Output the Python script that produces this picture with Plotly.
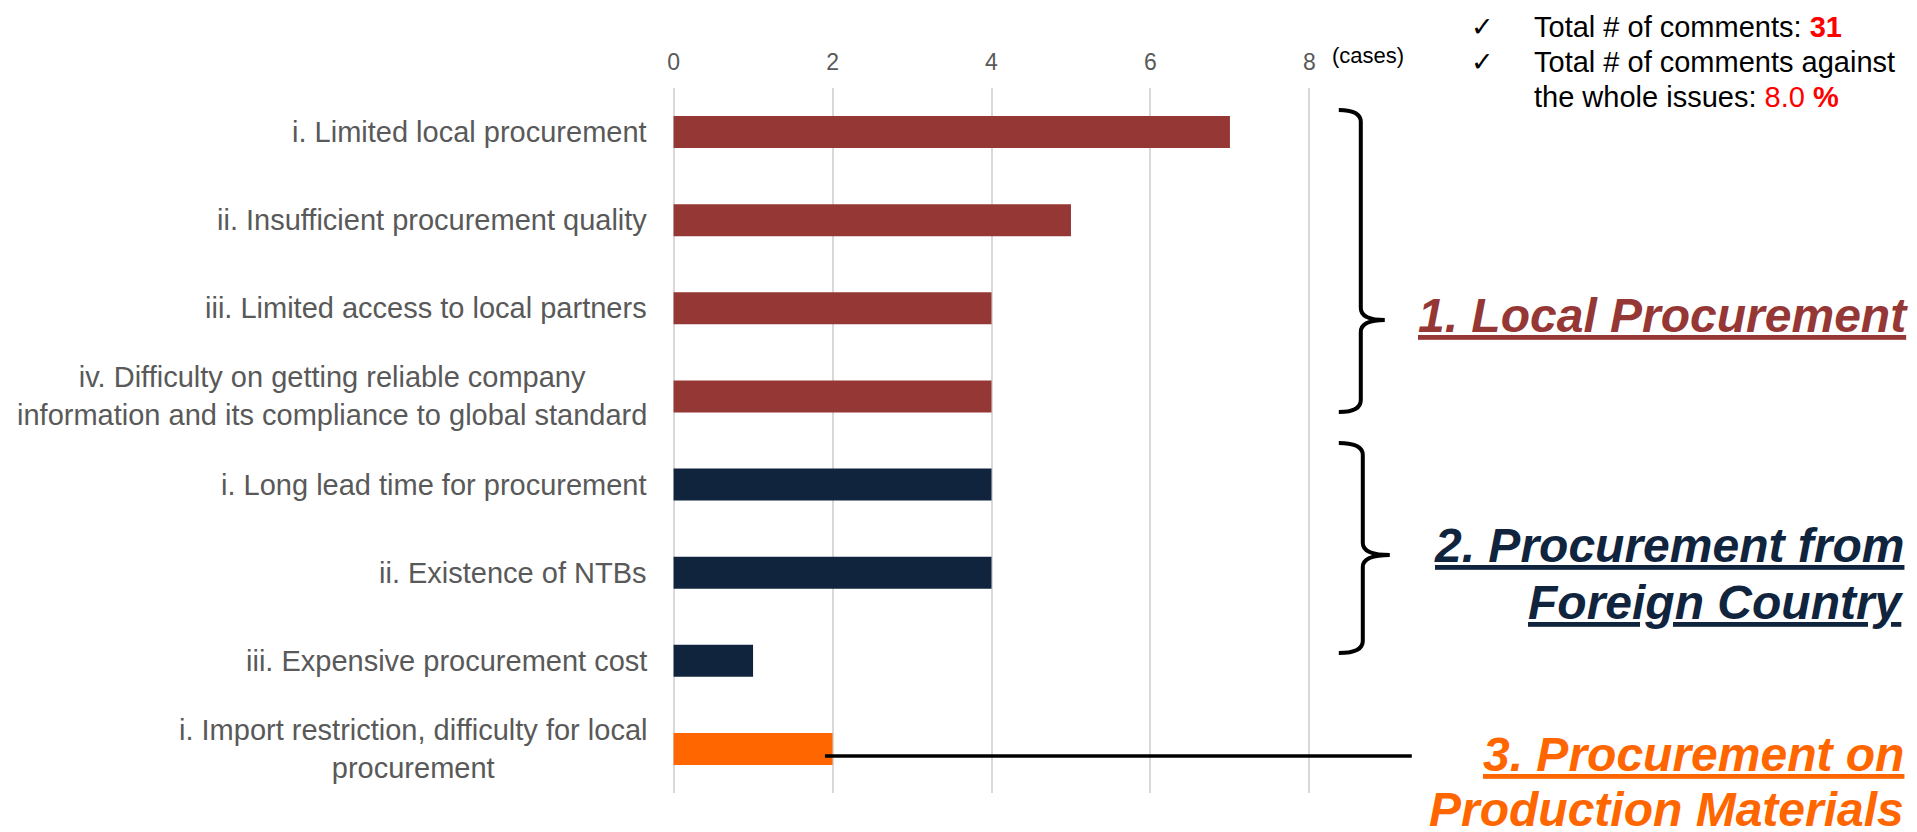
import plotly.graph_objects as go

# ---- data -------------------------------------------------------------
items = [
    "i. Limited local procurement",
    "ii. Insufficient procurement quality",
    "iii. Limited access to local partners",
    "iv. Difficulty on getting reliable company<br>information and its compliance to global standard",
    "i. Long lead time for procurement",
    "ii. Existence of NTBs",
    "iii. Expensive procurement cost",
    "i. Import restriction, difficulty for local<br>procurement",
]
cases = [7, 5, 4, 4, 4, 4, 1, 2]
item_group = [0, 0, 0, 0, 1, 1, 1, 2]

group_lines = [
    ["1. Local Procurement"],
    ["2. Procurement from", "Foreign Country"],
    ["3. Procurement on", "Production Materials"],
]
group_colors = ["#953735", "#10243E", "#FF6600"]

x_ticks = [0, 2, 4, 6, 8]
total_comments = 31
share_pct = "8.0"

# ---- layout geometry (pixels) -----------------------------------------
W, H = 1917, 832
X0_PX, X8_PX = 673.6, 1309.6        # where 0 and 8 cases fall
PAD = 0.02                           # small range padding so edge gridlines show
UNIT = (X8_PX - X0_PX) / 8
PL = X0_PX - PAD * UNIT
PR = X8_PX + PAD * UNIT
PT, PB = 88, 793
FONT = "Liberation Sans, Arial, sans-serif"


def px(x):
    return (x - PL) / (PR - PL)


def py(y):
    return (PB - y) / (PB - PT)


fig = go.Figure(
    go.Bar(
        x=cases,
        y=items,
        orientation="h",
        marker=dict(color=[group_colors[g] for g in item_group], line=dict(width=0)),
        hoverinfo="skip",
    )
)

annotations = []
shapes = []

# category labels, centred block right-aligned to the axis
for name in items:
    annotations.append(dict(
        x=0, y=name, xref="x", yref="y", xanchor="right", yanchor="middle",
        xshift=-25, text=name, showarrow=False, align="center",
        font=dict(family=FONT, size=29, color="#595959"),
    ))

# unit label
annotations.append(dict(
    x=px(1368), y=py(56), xref="paper", yref="paper", xanchor="center",
    yanchor="middle", text="(cases)", showarrow=False,
    font=dict(family=FONT, size=22, color="#000000"),
))

# summary block at the top right
summary = [
    "Total # of comments: <b><span style='color:#FF0000'>%d</span></b>" % total_comments,
    "Total # of comments against",
    "the whole issues: <span style='color:#FF0000'>%s <b>%%</b></span>" % share_pct,
]
for i, (line, yy) in enumerate(zip(summary, [27, 62, 97])):
    annotations.append(dict(
        x=px(1532), y=py(yy), xref="paper", yref="paper", xanchor="left",
        yanchor="middle", text=line, showarrow=False,
        font=dict(family=FONT, size=29, color="#000000"),
    ))
    if i < 2:
        annotations.append(dict(
            x=px(1483), y=py(yy), xref="paper", yref="paper", xanchor="center",
            yanchor="middle", text="\u2713", showarrow=False,
            font=dict(family="DejaVu Sans, sans-serif", size=27, color="#000000"),
        ))

# group titles (the last line sits on the bottom edge, its underline falls off the page)
title_pos = [
    (1910, [315], [True]),
    (1906, [545, 602], [True, True]),
    (1906, [754, 809], [True, False]),
]
for g, (xr, ys, unders) in enumerate(title_pos):
    for line, yy, under in zip(group_lines[g], ys, unders):
        annotations.append(dict(
            x=px(xr), y=py(yy), xref="paper", yref="paper", xanchor="right",
            yanchor="middle", text=line, showarrow=False,
            font=dict(family=FONT, size=48, color=group_colors[g],
                      weight="bold", style="italic",
                      lineposition="under" if under else "none"),
        ))


# curly braces for groups 1 and 2
def brace(x0, xv, xt, top, tip, bottom, r=12):
    pts = [
        ("M", [(x0, top)]),
        ("Q", [(xv, top), (xv, top + r)]),
        ("L", [(xv, tip - r)]),
        ("Q", [(xv, tip), (xt, tip)]),
        ("Q", [(xv, tip), (xv, tip + r)]),
        ("L", [(xv, bottom - r)]),
        ("Q", [(xv, bottom), (x0, bottom)]),
    ]
    out = []
    for cmd, coords in pts:
        out.append(cmd + " ".join("%.5f,%.5f" % (px(a), py(b)) for a, b in coords))
    return " ".join(out)


for spec in [(1339, 1361, 1385, 110, 320, 412), (1339, 1363, 1390, 443, 555, 653)]:
    shapes.append(dict(
        type="path", xref="paper", yref="paper", path=brace(*spec),
        line=dict(color="#000000", width=4),
    ))

# connector for group 3
shapes.append(dict(
    type="line", xref="paper", yref="paper",
    x0=px(825), x1=px(1412), y0=py(756), y1=py(756),
    line=dict(color="#000000", width=3.5),
))

fig.update_layout(
    width=W, height=H, autosize=False,
    margin=dict(l=PL, r=W - PR, t=PT, b=H - PB, pad=0),
    plot_bgcolor="#FFFFFF", paper_bgcolor="#FFFFFF",
    bargap=0.637, showlegend=False,
    font=dict(family=FONT),
    xaxis=dict(
        range=[-PAD, 8 + PAD], tickvals=x_ticks, side="top", showgrid=True,
        gridcolor="#D9D9D9", gridwidth=1.5, zeroline=False, showline=False,
        ticks="", ticklabelstandoff=12,
        tickfont=dict(family=FONT, size=23, color="#595959"),
        fixedrange=True,
    ),
    yaxis=dict(
        type="category", categoryorder="array", categoryarray=items,
        autorange="reversed", showticklabels=False, showgrid=False,
        zeroline=False, showline=False, fixedrange=True,
    ),
    annotations=annotations,
    shapes=shapes,
)

fig.write_html("out.html", config={"displayModeBar": False})
